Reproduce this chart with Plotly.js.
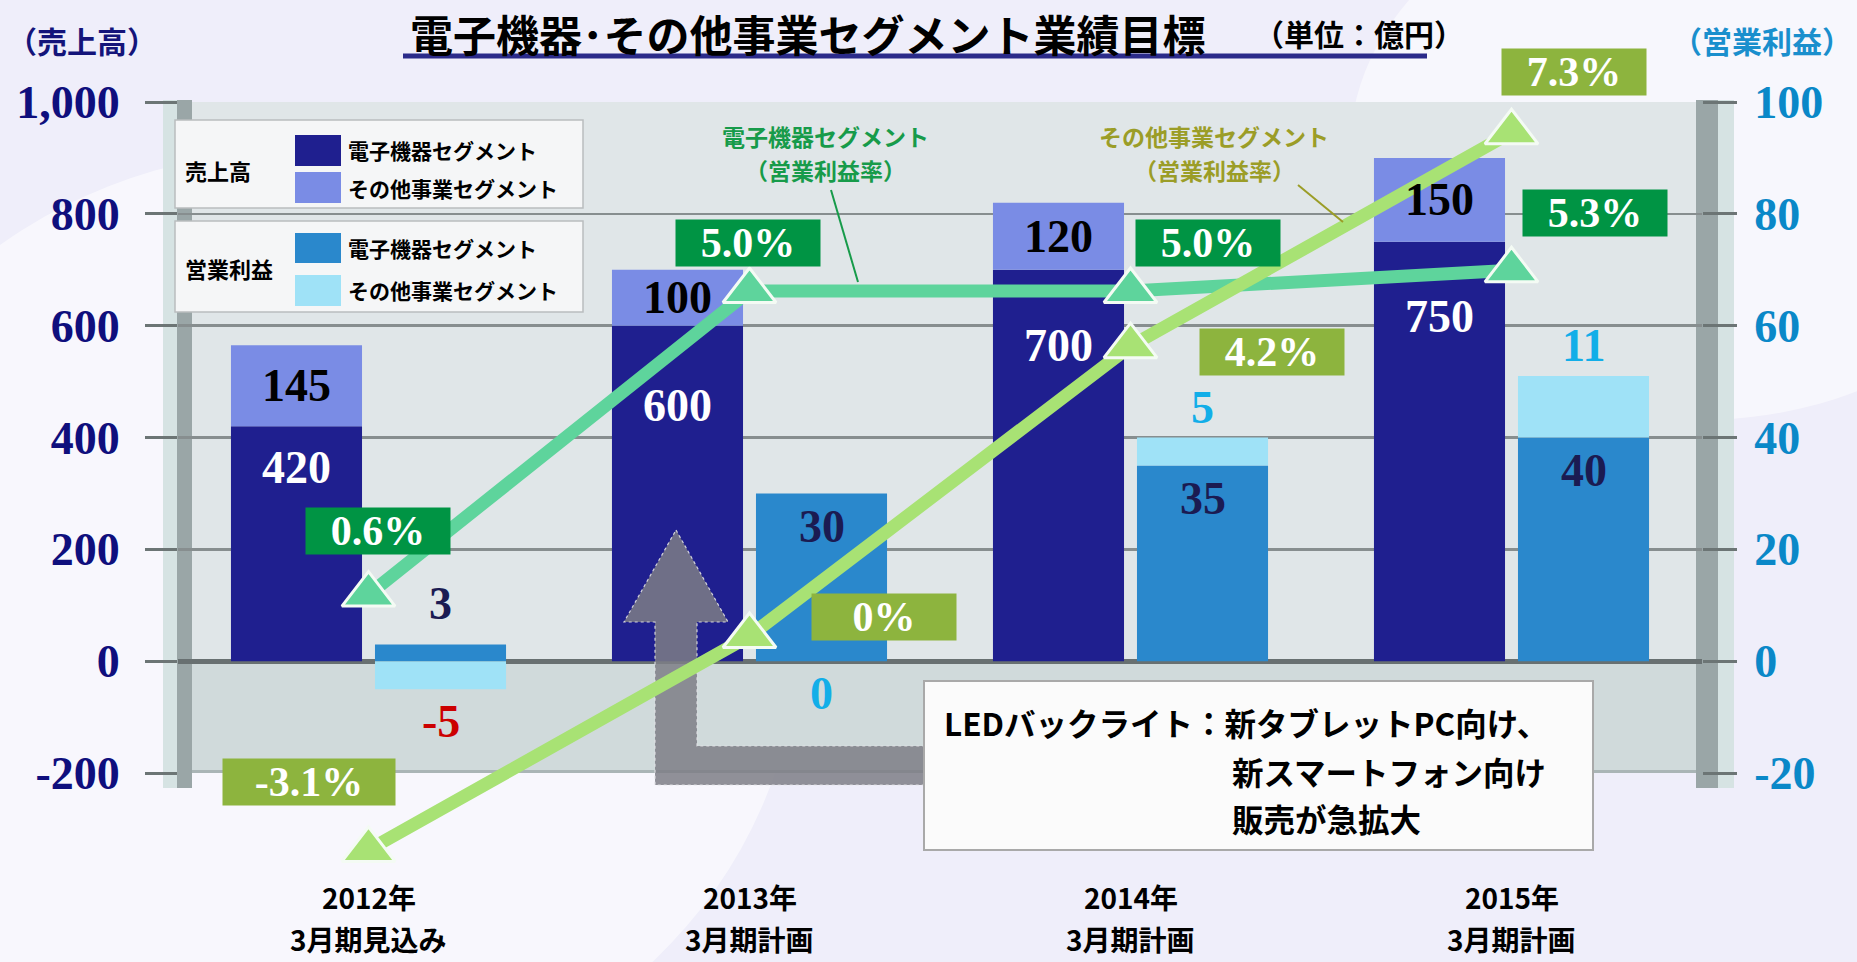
<!DOCTYPE html>
<html><head><meta charset="utf-8">
<script src="https://cdn.plot.ly/plotly-3.0.1.min.js"></script>
<style>html,body{margin:0;padding:0;background:#efeefa;}#chart{width:1857px;height:962px;}</style>
</head><body><div id="chart"></div>
<script>
// ---------------- data ----------------
const categoryYears = ['2012年', '2013年', '2014年', '2015年'];
const categoryPeriods = ['3月期見込み', '3月期計画', '3月期計画', '3月期計画'];
const categories = categoryYears.map((y, i) => y + ' ' + categoryPeriods[i]);
const salesElectronics = [420, 600, 700, 750];
const salesOther = [145, 100, 120, 150];
const profitElectronics = [3, 30, 35, 40];
const profitOther = [-5, 0, 5, 11];
const marginElectronics = [0.6, 5.0, 5.0, 5.3];
const marginOther = [-3.1, 0, 4.2, 7.3];
const marginElectronicsText = ['0.6%', '5.0%', '5.0%', '5.3%'];
const marginOtherText = ['-3.1%', '0%', '4.2%', '7.3%'];
const leftTickVals = [-200, 0, 200, 400, 600, 800, 1000];
const leftTickText = ['-200', '0', '200', '400', '600', '800', '1,000'];
const rightTickVals = [-20, 0, 20, 40, 60, 80, 100];
const rightTickText = ['-20', '0', '20', '40', '60', '80', '100'];

// ---------------- geometry / style ----------------
const W = 1857, H = 962;
const M = {l: 178, r: 155, t: 40, b: 40};
const PW = W - M.l - M.r, PH = H - M.t - M.b;
const px = x => (x - M.l) / PW;
const py = y => (H - M.b - y) / PH;
const catPx = PW / categories.length;
const xd = x => (x - M.l) / catPx - 0.5;
const PLOT_TOP = 102, PLOT_BOTTOM = 773, ZERO_PX = 661;
const PCT0 = 636, PCT_PX = 69;
const pd = y => (PCT0 - y) / PCT_PX;

const BAR_W = 0.344, SALES_OFF = -0.361, PROFIT_OFF = 0.017;
const SALES_C = SALES_OFF + BAR_W / 2, PROFIT_C = PROFIT_OFF + BAR_W / 2;

const C_SE = '#1f1f8f', C_SO = '#7a8ce5', C_PE = '#2a88cc', C_PO = '#9fe2f7';
const C_LE = '#5ed49c', C_LO = '#a8e274';
const SERIF = 'Liberation Serif, Times New Roman, serif';
const JP = 'Noto Sans CJK JP, sans-serif';

const salesInnerDrop = [41, 80, 76, 75];
const elecLabelShift = [[9, 64], [-2, 48], [77, 48], [83, 57]];
const otherLabelShift = [[-60, 68], [134, 19], [141, -6], [62, 60]];

// ---------------- traces ----------------
const traces = [
  {type: 'bar', name: '売上高 電子機器セグメント', x: categories, y: salesElectronics, width: BAR_W, offset: SALES_OFF,
   marker: {color: C_SE}, xaxis: 'x', yaxis: 'y', hoverinfo: 'skip'},
  {type: 'bar', name: '売上高 その他事業セグメント', x: categories, y: salesOther, width: BAR_W, offset: SALES_OFF,
   marker: {color: C_SO}, xaxis: 'x', yaxis: 'y', hoverinfo: 'skip'},
  {type: 'bar', name: '営業利益 電子機器セグメント', x: categories, y: profitElectronics, width: BAR_W, offset: PROFIT_OFF,
   marker: {color: C_PE}, xaxis: 'x', yaxis: 'y2', hoverinfo: 'skip'},
  {type: 'bar', name: '営業利益 その他事業セグメント', x: categories, y: profitOther, width: BAR_W, offset: PROFIT_OFF,
   marker: {color: C_PO}, xaxis: 'x', yaxis: 'y2', hoverinfo: 'skip'},
  {type: 'scatter', mode: 'lines+markers', name: '電子機器セグメント（営業利益率）', x: categories, y: marginElectronics,
   xaxis: 'x', yaxis: 'y3', line: {color: C_LE, width: 13},
   marker: {symbol: 'triangle-up', size: 46, color: C_LE, line: {color: '#f4fbf4', width: 3}}, hoverinfo: 'skip', cliponaxis: false},
  {type: 'scatter', mode: 'lines+markers', name: 'その他事業セグメント（営業利益率）', x: categories, y: marginOther,
   xaxis: 'x', yaxis: 'y3', line: {color: C_LO, width: 13},
   marker: {symbol: 'triangle-up', size: 46, color: C_LO, line: {color: '#f4fbf4', width: 3}}, hoverinfo: 'skip', cliponaxis: false}
];

// ---------------- annotations ----------------
const ann = [];
const txt = (x, y, text, size, color, extra) => Object.assign({
  xref: 'paper', yref: 'paper', x: px(x), y: py(y), text: text, showarrow: false,
  font: {family: JP, size: size, color: color, weight: 700}, xanchor: 'center', yanchor: 'middle'
}, extra || {});

ann.push(txt(408, 33, '電子機器･その他事業セグメント業績目標', 43, '#000', {xanchor: 'left'}));
ann.push(txt(1252, 33, '（単位：億円）', 30, '#000', {xanchor: 'left'}));
ann.push(txt(82, 40, '（売上高）', 30, '#14147a'));
ann.push(txt(1762, 40, '（営業利益）', 30, '#1a8fcd'));
// legend
ann.push(txt(183, 170, '売上高', 22, '#000', {xanchor: 'left'}));
ann.push(txt(183, 268, '営業利益', 22, '#000', {xanchor: 'left'}));
ann.push(txt(346, 150, '電子機器セグメント', 21, '#000', {xanchor: 'left'}));
ann.push(txt(346, 188, 'その他事業セグメント', 21, '#000', {xanchor: 'left'}));
ann.push(txt(346, 248, '電子機器セグメント', 21, '#000', {xanchor: 'left'}));
ann.push(txt(346, 290, 'その他事業セグメント', 21, '#000', {xanchor: 'left'}));
// callouts
ann.push(txt(825, 136, '電子機器セグメント', 23, '#179b4a'));
ann.push(txt(825, 170, '（営業利益率）', 23, '#179b4a'));
ann.push(txt(1214, 136, 'その他事業セグメント', 23, '#9b9d27'));
ann.push(txt(1214, 170, '（営業利益率）', 23, '#9b9d27'));
// LED box
ann.push(txt(942, 722, 'LEDバックライト：新タブレットPC向け、', 31.5, '#000', {xanchor: 'left'}));
ann.push(txt(1230, 771, '新スマートフォン向け', 31.5, '#000', {xanchor: 'left'}));
ann.push(txt(1230, 818, '販売が急拡大', 31.5, '#000', {xanchor: 'left'}));

// category labels (two lines each)
categories.forEach((c, i) => {
  const base = {xref: 'x', yref: 'paper', x: i, showarrow: false, xanchor: 'center', yanchor: 'middle',
                font: {family: JP, size: 28, color: '#000', weight: 700}};
  ann.push(Object.assign({}, base, {y: py(897), text: categoryYears[i]}));
  ann.push(Object.assign({}, base, {y: py(939), text: categoryPeriods[i]}));
});

const num = (x, y, yref, text, color, yshift) => ({
  xref: 'x', yref: yref, x: x, y: y, text: text, showarrow: false, yshift: yshift,
  font: {family: SERIF, size: 46, color: color, weight: 700}, xanchor: 'center', yanchor: 'middle'
});
categories.forEach((c, i) => {
  ann.push(num(i + SALES_C, salesElectronics[i], 'y', String(salesElectronics[i]), '#ffffff', -salesInnerDrop[i]));
  ann.push(num(i + SALES_C, salesElectronics[i] + salesOther[i] / 2, 'y', String(salesOther[i]), '#000000', 0));
  const pe = profitElectronics[i], po = profitOther[i];
  if (pe >= 10) ann.push(num(i + PROFIT_C, pe, 'y2', String(pe), '#1b1b52', -33));
  else ann.push(num(i + PROFIT_C, pe, 'y2', String(pe), '#1b1b52', 41));
  if (po > 0) ann.push(num(i + PROFIT_C, pe + po, 'y2', String(po), '#12aee8', 30));
  else ann.push(num(i + PROFIT_C, Math.min(0, po), 'y2', String(po), po < 0 ? '#cc0000' : '#12aee8', -32));
  const pct = (v, t, shift, bg) => ({
    xref: 'x', yref: 'y3', x: i, y: v, text: t, showarrow: false, xshift: shift[0], yshift: shift[1],
    width: t.length >= 5 ? 172 : 144, height: 46, bgcolor: bg, borderpad: 0,
    font: {family: SERIF, size: 42, color: '#ffffff', weight: 700}, xanchor: 'center', yanchor: 'middle', valign: 'middle'
  });
  ann.push(pct(marginElectronics[i], marginElectronicsText[i], elecLabelShift[i], '#009444'));
  ann.push(pct(marginOther[i], marginOtherText[i], otherLabelShift[i], '#8db43e'));
});

// ---------------- shapes ----------------
const rectP = (x0, y0, x1, y1, fill, line, layer) => ({
  type: 'rect', xref: 'paper', yref: 'paper', x0: px(x0), x1: px(x1), y0: py(y1), y1: py(y0),
  fillcolor: fill, line: line || {width: 0}, layer: layer || 'below'
});
const lineP = (x0, y0, x1, y1, color, width, layer) => ({
  type: 'line', xref: 'paper', yref: 'paper', x0: px(x0), x1: px(x1), y0: py(y0), y1: py(y1),
  line: {color: color, width: width}, layer: layer || 'above'
});
const arrowPts = [[676, 530], [728, 622], [697, 622], [697, 746], [1000, 746], [1000, 785], [655, 785], [655, 622], [624, 622]];
const arrowPath = 'M' + arrowPts.map(p => xd(p[0]).toFixed(4) + ',' + pd(p[1]).toFixed(4)).join(' L') + ' Z';

const shapes = [
  {type: 'circle', xref: 'paper', yref: 'paper', x0: px(-200), x1: px(800), y0: py(1100), y1: py(150),
   fillcolor: 'rgba(255,255,255,0.55)', line: {width: 0}, layer: 'below'},
  {type: 'circle', xref: 'paper', yref: 'paper', x0: px(1350), x1: px(2050), y0: py(420), y1: py(-120),
   fillcolor: 'rgba(255,255,255,0.5)', line: {width: 0}, layer: 'below'},
  rectP(M.l, PLOT_TOP, W - M.r, PLOT_BOTTOM, '#e0e6e8'),
  rectP(M.l, ZERO_PX, W - M.r, PLOT_BOTTOM, '#d0dadb'),
  rectP(M.l, PLOT_BOTTOM - 3, W - M.r, PLOT_BOTTOM, '#aab5b6'),
  rectP(163, 100, 177, 788, '#d6e3e3'),
  rectP(177, 100, 192, 788, '#9aa6a7'),
  rectP(1696, 100, 1718, 788, '#9aa6a7'),
  rectP(1718, 100, 1734, 788, '#d6e3e3'),
  rectP(175, 120, 583, 208, '#f5f6f7', {color: '#b9bdbf', width: 1.5}),
  rectP(175, 221, 583, 312, '#f5f6f7', {color: '#b9bdbf', width: 1.5}),
  rectP(295, 135, 341, 166, C_SE),
  rectP(295, 172, 341, 203, C_SO),
  rectP(295, 233, 341, 263, C_PE),
  rectP(295, 275, 341, 306, C_PO),
  lineP(403, 56, 1427, 56, '#2b2b8a', 5),
  lineP(831, 190, 858, 282, '#179b4a', 2),
  lineP(1298, 185, 1343, 222, '#9b9d27', 2),
  {type: 'path', xref: 'x', yref: 'y3', path: arrowPath, fillcolor: 'rgba(126,126,134,0.85)',
   line: {color: 'rgba(225,225,230,0.9)', width: 1.2, dash: 'dot'}, layer: 'below'},
  rectP(924, 681, 1593, 850, '#fbfbfb', {color: '#a9a9a9', width: 2}, 'above')
];

// ---------------- layout ----------------
const layout = {
  width: W, height: H, margin: M,
  paper_bgcolor: '#efeefa', plot_bgcolor: 'rgba(0,0,0,0)',
  barmode: 'relative', showlegend: false,
  font: {family: JP},
  xaxis: {type: 'category', range: [-0.5, 3.5], anchor: 'y', showgrid: false, zeroline: false, showline: false,
          ticks: '', showticklabels: false},
  yaxis: {domain: [py(PLOT_BOTTOM), py(PLOT_TOP)], range: [-200, 1000], tickvals: leftTickVals, ticktext: leftTickText,
          showgrid: true, gridcolor: '#878e8f', gridwidth: 2.5, zeroline: true, zerolinecolor: '#687071', zerolinewidth: 5,
          ticks: 'outside', ticklen: 32, tickwidth: 3, tickcolor: '#6c7575', ticklabelstandoff: 16,
          tickfont: {family: SERIF, size: 46, color: '#0f0f7d', weight: 700}, showline: false},
  yaxis2: {overlaying: 'y', side: 'right', range: [-20, 100], tickvals: rightTickVals, ticktext: rightTickText,
           showgrid: false, zeroline: false, ticks: 'outside', ticklen: 34, tickwidth: 3, tickcolor: '#6c7575',
           ticklabelstandoff: 8, tickfont: {family: SERIF, size: 46, color: '#0a88c8', weight: 700}, showline: false},
  yaxis3: {domain: [0, 1], range: [pd(H - M.b), pd(M.t)], anchor: 'x', visible: false, showgrid: false, zeroline: false},
  annotations: ann,
  shapes: shapes
};

Plotly.newPlot('chart', traces, layout, {displayModeBar: false, staticPlot: true});
</script>
</body></html>
